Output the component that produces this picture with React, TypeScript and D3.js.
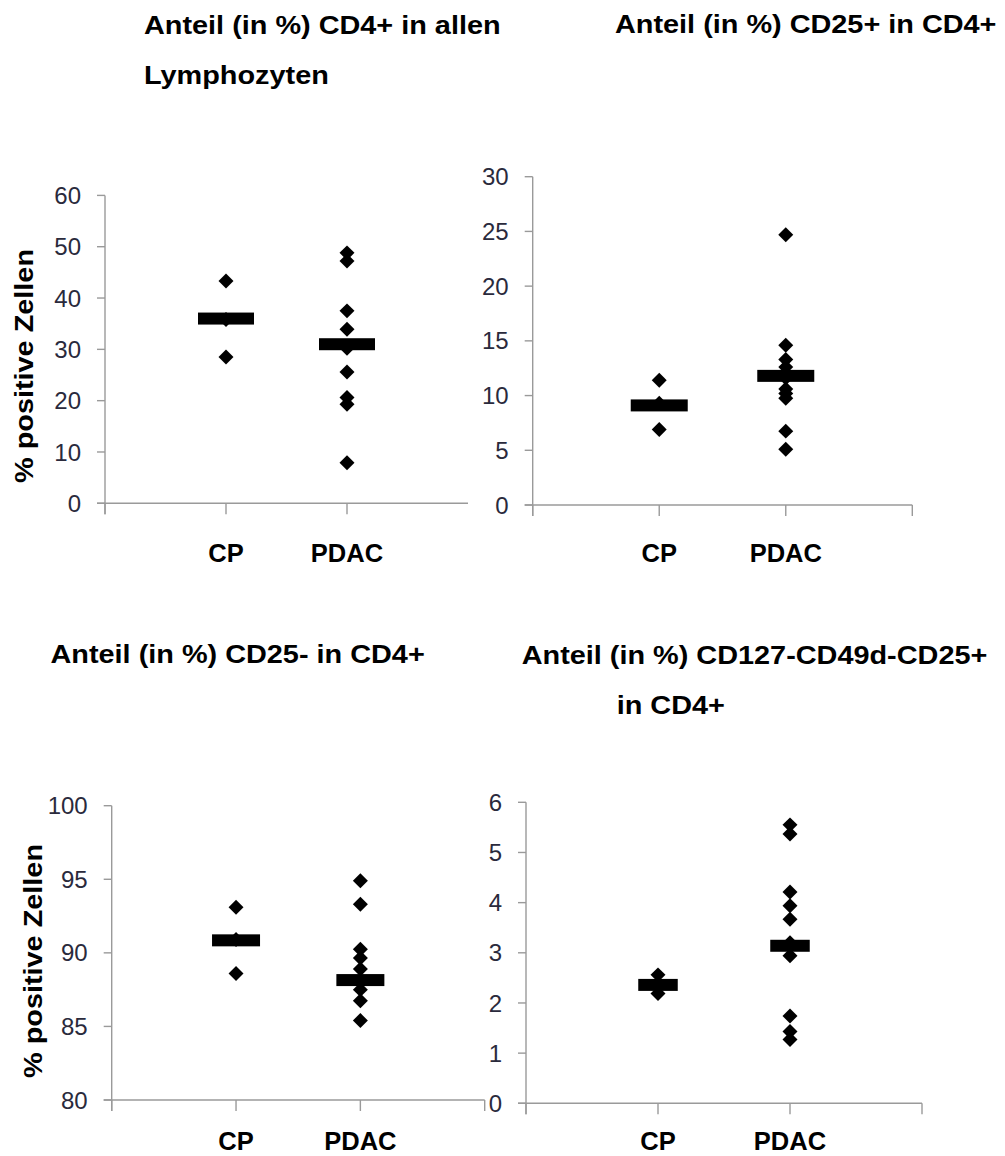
import React from "react";
import * as d3 from "d3";

const categories = ["CP", "PDAC"];

const p1CP = [43.3, 35.8, 28.5];
const p1PDAC = [48.8, 47.2, 37.5, 33.9, 30.2, 25.6, 20.6, 19.3, 7.9];
const p1Bars = [36.0, 31.0];

const p2CP = [11.4, 9.3, 6.9];
const p2PDAC = [24.7, 14.6, 13.3, 12.6, 11.6, 10.6, 10.2, 9.75, 6.75, 5.1];
const p2Bars = [9.1, 11.8];

const p3CP = [93.1, 90.9, 88.6];
const p3PDAC = [94.9, 93.3, 90.25, 89.65, 88.9, 88.1, 87.5, 86.75, 85.4];
const p3Bars = [90.85, 88.15];

const p4CP = [2.56, 2.35, 2.19];
const p4PDAC = [5.55, 5.37, 4.21, 3.94, 3.67, 3.2, 2.94, 1.74, 1.43, 1.27];
const p4Bars = [2.36, 3.14];

const titles = [
  ["Anteil (in %) CD4+ in allen", "Lymphozyten"],
  ["Anteil (in %) CD25+ in CD4+"],
  ["Anteil (in %) CD25- in CD4+"],
  ["Anteil (in %) CD127-CD49d-CD25+", "in CD4+"],
];

const yLabel = "% positive Zellen";

type Panel = {
  x0: number; x1: number; yTop: number; yBot: number;
  domain: [number, number]; step: number;
  cp: number[]; pdac: number[]; bars: number[];
  barW: number; rightTick: boolean; labelY: number;
  title: { x: number; y: number; lines: string[]; lineX?: number[] };
  ylab?: { x: number; y: number };
};

const panels: Panel[] = [
  {
    x0: 105, x1: 468, yTop: 195.4, yBot: 503.3, domain: [0, 60], step: 10,
    cp: p1CP, pdac: p1PDAC, bars: p1Bars, barW: 56, rightTick: false, labelY: 561.5,
    title: { x: 143, y: 34, lines: titles[0], lineX: [144, 144] },
    ylab: { x: 33, y: 366 },
  },
  {
    x0: 532.7, x1: 912.3, yTop: 176.7, yBot: 505, domain: [0, 30], step: 5,
    cp: p2CP, pdac: p2PDAC, bars: p2Bars, barW: 57, rightTick: true, labelY: 561.5,
    title: { x: 615, y: 33, lines: titles[1], lineX: [615] },
  },
  {
    x0: 111.7, x1: 484.7, yTop: 805.7, yBot: 1100, domain: [80, 100], step: 5,
    cp: p3CP, pdac: p3PDAC, bars: p3Bars, barW: 48, rightTick: true, labelY: 1150,
    title: { x: 50.5, y: 663, lines: titles[2], lineX: [50.5] },
    ylab: { x: 42, y: 961 },
  },
  {
    x0: 526, x1: 922, yTop: 802.3, yBot: 1103.3, domain: [0, 6], step: 1,
    cp: p4CP, pdac: p4PDAC, bars: p4Bars, barW: 39.5, rightTick: true, labelY: 1150,
    title: { x: 521.7, y: 664, lines: titles[3], lineX: [521.7, 616.7] },
  },
];

const AXIS = "#9a9a9a";
const TICKC = "#2a2a3c";
const FONT = "'Liberation Sans', Arial, Helvetica, sans-serif";

const diamond = d3.symbol().type(d3.symbolSquare).size(112)();

function PanelView({ p }: { p: Panel }) {
  const x = d3.scaleLinear().domain([0, 3]).range([p.x0, p.x1]);
  const y = d3.scaleLinear().domain(p.domain).range([p.yBot, p.yTop]);
  const ticks = d3.range(p.domain[0], p.domain[1] + p.step / 2, p.step);
  const xTicks = p.rightTick ? [0, 1, 2, 3] : [0, 1, 2];
  const groups = [p.cp, p.pdac];
  return (
    <g>
      {/* y axis */}
      <line x1={x(0)} x2={x(0)} y1={y(p.domain[1])} y2={y(p.domain[0]) + 11} stroke={AXIS} strokeWidth={1.4} />
      {ticks.map((t) => (
        <g key={t}>
          <line x1={x(0) - 8} x2={x(0)} y1={y(t)} y2={y(t)} stroke={AXIS} strokeWidth={1.4} />
          <text x={x(0) - 24} y={y(t)} dy="0.36em" textAnchor="end" fontSize={24} fill={TICKC} fontFamily={FONT}>
            {t}
          </text>
        </g>
      ))}
      {/* x axis */}
      <line x1={x(0) - 8} x2={x(3)} y1={y(p.domain[0])} y2={y(p.domain[0])} stroke={AXIS} strokeWidth={1.4} />
      {xTicks.map((t) => (
        <line key={t} x1={x(t)} x2={x(t)} y1={y(p.domain[0])} y2={y(p.domain[0]) + 11} stroke={AXIS} strokeWidth={1.4} />
      ))}
      {categories.map((c, i) => (
        <text key={c} x={x(i + 1)} y={p.labelY} textAnchor="middle" fontSize={25.5} fontWeight="bold" fill="#000" fontFamily={FONT}>
          {c}
        </text>
      ))}
      {/* points */}
      {groups.map((g, gi) =>
        g.map((v, vi) => (
          <path key={gi + "-" + vi} d={diamond!} transform={`translate(${x(gi + 1)},${y(v)}) rotate(45)`} fill="#000" />
        ))
      )}
      {/* median bars */}
      {p.bars.map((v, i) => (
        <rect key={i} x={x(i + 1) - p.barW / 2} y={y(v) - 6} width={p.barW} height={12} fill="#000" />
      ))}
      {/* title */}
      {p.title.lines.map((l, i) => (
        <text
          key={i}
          transform={`translate(${(p.title.lineX || [])[i] ?? p.title.x},${p.title.y + i * 50}) scale(1.11,1)`}
          fontSize={26}
          fontWeight="bold"
          fill="#000"
          fontFamily={FONT}
        >
          {l}
        </text>
      ))}
      {p.ylab && (
        <text
          transform={`translate(${p.ylab.x},${p.ylab.y}) rotate(-90) scale(1.11,1)`}
          textAnchor="middle"
          fontSize={26}
          fontWeight="bold"
          fill="#000"
          fontFamily={FONT}
        >
          {yLabel}
        </text>
      )}
    </g>
  );
}

export default function App() {
  return (
    <svg
      width={1005}
      height={1156}
      style={{ position: "absolute", left: 0, top: 0, background: "#fff" }}
    >
      <rect width={1005} height={1156} fill="#fff" />
      {panels.map((p, i) => (
        <PanelView key={i} p={p} />
      ))}
    </svg>
  );
}
